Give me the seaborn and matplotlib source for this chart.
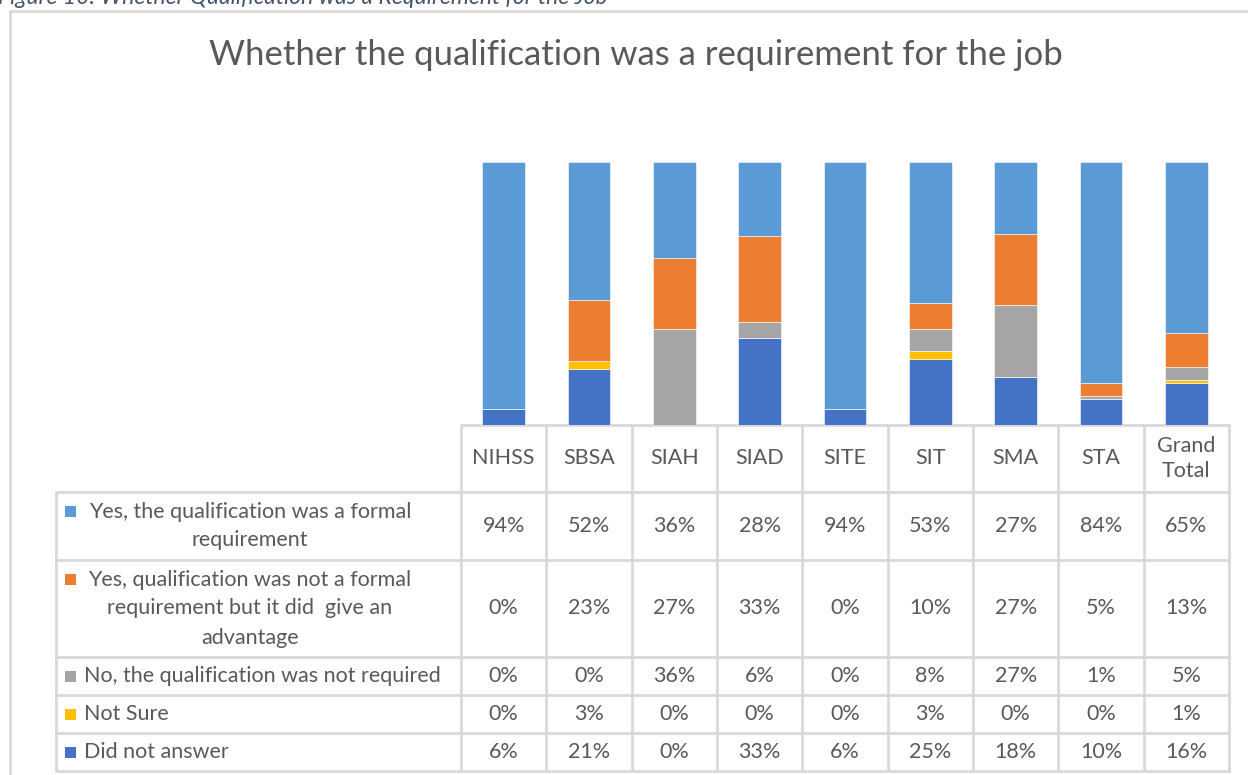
import seaborn as sns
from matplotlib import pyplot as plt
from matplotlib.patches import Rectangle
import pandas as pd
import numpy as np

# Survey answers per organisation (percent of respondents)
categories = ['NIHSS', 'SBSA', 'SIAH', 'SIAD', 'SITE', 'SIT', 'SMA', 'STA', 'Grand Total']
header_labels = ['NIHSS', 'SBSA', 'SIAH', 'SIAD', 'SITE', 'SIT', 'SMA', 'STA', 'Grand\nTotal']
yes_formal = [94, 52, 36, 28, 94, 53, 27, 84, 65]
yes_advantage = [0, 23, 27, 33, 0, 10, 27, 5, 13]
not_required = [0, 0, 36, 6, 0, 8, 27, 1, 5]
not_sure = [0, 3, 0, 0, 0, 3, 0, 0, 1]
no_answer = [6, 21, 0, 33, 6, 25, 18, 10, 16]

series_names = ['Yes, the qualification was a formal\nrequirement',
                'Yes, qualification was not a formal\nrequirement but it did  give an\nadvantage',
                'No, the qualification was not required',
                'Not Sure',
                'Did not answer']
series_values = [yes_formal, yes_advantage, not_required, not_sure, no_answer]
series_colors = ['#5B9BD5', '#ED7D31', '#A5A5A5', '#FFC000', '#4472C4']

title = 'Whether the qualification was a requirement for the job'
caption = 'Figure 10: Whether Qualification was a Requirement for the Job'

sns.set_style('white')
plt.rcParams['font.family'] = ['Lato', 'DejaVu Sans']
text_grey = '#595959'
line_grey = '#D9D9D9'

W, H = 1248, 775
fig = plt.figure(figsize=(W / 100, H / 100), dpi=100)

# pixel layout of the Excel-style chart
tab_left, col_left, col_right = 56, 461, 1229
bar_top, bar_bottom = 162, 425
row_lines = [492, 560, 657, 695, 733, 771]

# 100% stacked bars, stacked bottom-up in reverse legend order
df = pd.DataFrame(dict(zip(range(5), series_values)), index=categories)
share = df.div(df.sum(axis=1), axis=0)

ax = fig.add_axes([col_left / W, 1 - bar_bottom / H, (col_right - col_left) / W, (bar_bottom - bar_top) / H])
bottom = np.zeros(len(categories))
for i in reversed(range(5)):
    sns.barplot(x=categories, y=share[i].values, bottom=bottom, color=series_colors[i],
                saturation=1, width=0.5, ax=ax, edgecolor='white', linewidth=0.4)
    bottom = bottom + share[i].values
ax.set_xlim(-0.5, len(categories) - 0.5)
ax.set_ylim(0, 1)
ax.axis('off')

# overlay in pixel coordinates for title, border and the data table
ov = fig.add_axes([0, 0, 1, 1], zorder=-1)
ov.set_xlim(0, W)
ov.set_ylim(H, 0)
ov.axis('off')

ov.plot([10, W], [11, 11], color=line_grey, lw=2)
ov.plot([10, 10], [11, H], color=line_grey, lw=2)
ov.text(-2, 4, caption, style='italic', color='#44546A', fontsize=16.5, va='baseline')
ov.text(636, 55, title, color=text_grey, fontsize=25, ha='center', va='center')

col_w = (col_right - col_left) / len(categories)
# horizontal table lines
ov.plot([col_left, col_right], [bar_bottom, bar_bottom], color=line_grey, lw=2)
for y in row_lines:
    ov.plot([tab_left, col_right], [y, y], color=line_grey, lw=2)
# vertical table lines
ov.plot([tab_left, tab_left], [row_lines[0], row_lines[-1]], color=line_grey, lw=2)
for j in range(len(categories) + 1):
    x = col_left + j * col_w
    ov.plot([x, x], [bar_bottom, row_lines[-1]], color=line_grey, lw=2)

fs = 15.5
for j, lab in enumerate(header_labels):
    ov.text(col_left + (j + 0.5) * col_w, (bar_bottom + row_lines[0]) / 2, lab, color=text_grey,
            fontsize=fs, ha='center', va='center', linespacing=1.3)

for i in range(5):
    y0, y1 = row_lines[i], row_lines[i + 1]
    yc = (y0 + y1) / 2
    lines = series_names[i].split('\n')
    n = len(lines)
    step = 29
    first_y = yc - (n - 1) * step / 2
    if n > 1:
        for k, ln in enumerate(lines):
            ov.text(250, first_y + k * step, ln, color=text_grey, fontsize=fs, ha='center', va='center')
    else:
        ov.text(84, yc, lines[0], color=text_grey, fontsize=fs, ha='left', va='center')
    ov.add_patch(Rectangle((65, first_y - 5.5), 11, 11, color=series_colors[i], lw=0))
    for j in range(len(categories)):
        ov.text(col_left + (j + 0.5) * col_w, yc, f'{series_values[i][j]}%', color=text_grey,
                fontsize=fs, ha='center', va='center')

fig.savefig('out.png', dpi=100, facecolor='white')
